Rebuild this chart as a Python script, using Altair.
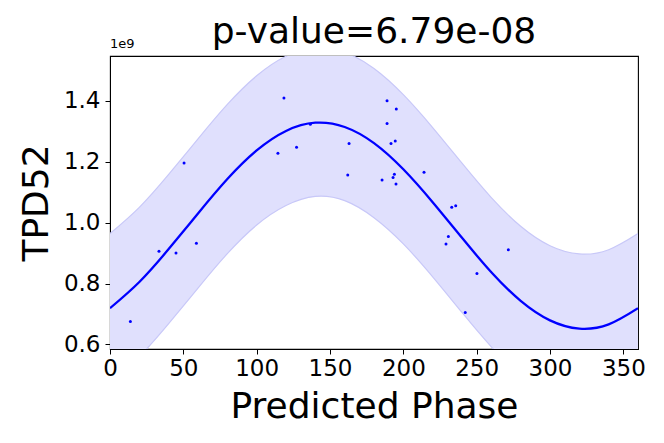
import altair as alt
import pandas as pd

# Observed samples (phase in degrees, TPD52 expression)
phase = [13.9, 33.4, 45.0, 50.5, 58.9, 114.5, 118.6, 127.2, 136.6, 163.0, 162.1,
         188.9, 195.2, 188.9, 191.6, 194.5, 185.5, 193.0, 193.9, 195.0, 214.1,
         233.0, 235.7, 230.7, 229.1, 271.6, 250.2, 242.2]
tpd52 = [0.675e9, 0.906e9, 0.900e9, 1.196e9, 0.932e9, 1.228e9, 1.409e9, 1.247e9, 1.323e9,
         1.260e9, 1.156e9, 1.400e9, 1.373e9, 1.325e9, 1.260e9, 1.268e9, 1.140e9, 1.148e9,
         1.159e9, 1.127e9, 1.165e9, 1.050e9, 1.055e9, 0.954e9, 0.930e9, 0.911e9, 0.833e9,
         0.705e9]

# Fitted curve and its band, every 20 degrees
curve_x = [0, 20, 40, 60, 80, 100, 120, 140, 160, 180, 200, 220, 240, 260, 280, 300, 320, 340, 360]
curve_y = [0.719e9, 0.805e9, 0.913e9, 1.030e9, 1.143e9, 1.237e9, 1.301e9, 1.328e9, 1.314e9,
           1.261e9, 1.175e9, 1.067e9, 0.950e9, 0.837e9, 0.743e9, 0.679e9, 0.652e9, 0.666e9,
           0.719e9]
band_lo = [0.474e9, 0.560e9, 0.668e9, 0.785e9, 0.898e9, 0.992e9, 1.056e9, 1.086e9, 1.072e9,
           1.016e9, 0.930e9, 0.822e9, 0.705e9, 0.592e9, 0.498e9, 0.434e9, 0.407e9, 0.421e9,
           0.474e9]
band_hi = [0.964e9, 1.050e9, 1.158e9, 1.275e9, 1.388e9, 1.482e9, 1.546e9, 1.573e9, 1.559e9,
           1.506e9, 1.420e9, 1.312e9, 1.195e9, 1.082e9, 0.988e9, 0.924e9, 0.897e9, 0.911e9,
           0.964e9]

x_ticks = [0, 50, 100, 150, 200, 250, 300, 350]
y_ticks = [0.6e9, 0.8e9, 1.0e9, 1.2e9, 1.4e9]
title_text = "p-value=6.79e-08"
offset_text = "1e9"

pts = pd.DataFrame({"phase": phase, "val": tpd52})
fit = pd.DataFrame({"x": curve_x, "y": curve_y, "lo": band_lo, "hi": band_hi})

FONT = "DejaVu Sans"
xscale = alt.Scale(domain=[0, 360], nice=False, zero=False)
yscale = alt.Scale(domain=[0.585e9, 1.547e9], nice=False, zero=False)

xaxis = alt.Axis(values=x_ticks, title="Predicted Phase", titleFontSize=36, titleFont=FONT,
                 titleFontWeight="normal", titleColor="black", titleY=68,
                 titleBaseline="alphabetic", labelFontSize=23, labelFont=FONT,
                 labelColor="black", tickSize=5, tickColor="black", domainColor="black",
                 labelPadding=3, grid=False, labelFlush=False, labelOverlap=False)
yaxis = alt.Axis(values=y_ticks, title="TPD52", titleFontSize=36, titleFont=FONT,
                 titleFontWeight="normal", titleColor="black", titleX=-63,
                 titleBaseline="alphabetic", labelFontSize=23, labelFont=FONT,
                 labelColor="black", tickSize=5, tickColor="black", domainColor="black",
                 labelPadding=5, grid=False, labelExpr="format(datum.value / 1e9, '.1f')",
                 labelOverlap=False)

base = alt.Chart(fit)
area = base.mark_area(color="#e0e0fd", opacity=1, clip=True, interpolate="natural").encode(
    x=alt.X("x:Q", scale=xscale, axis=xaxis),
    y=alt.Y("lo:Q", scale=yscale, axis=yaxis),
    y2="hi:Q",
)
edge_lo = base.mark_line(color="#c8c8f8", strokeWidth=1.2, clip=True, interpolate="natural").encode(
    x=alt.X("x:Q", scale=xscale), y=alt.Y("lo:Q", scale=yscale))
edge_hi = base.mark_line(color="#c8c8f8", strokeWidth=1.2, clip=True, interpolate="natural").encode(
    x=alt.X("x:Q", scale=xscale), y=alt.Y("hi:Q", scale=yscale))
line = base.mark_line(color="#0000ff", strokeWidth=2.3, clip=True, interpolate="natural").encode(
    x=alt.X("x:Q", scale=xscale), y=alt.Y("y:Q", scale=yscale))
dots = alt.Chart(pts).mark_circle(color="#0000ff", opacity=1, size=9).encode(
    x=alt.X("phase:Q", scale=xscale), y=alt.Y("val:Q", scale=yscale))
offset_txt = alt.Chart(pd.DataFrame({"t": [offset_text]})).mark_text(
    font=FONT, fontSize=13, align="left", baseline="alphabetic", color="black"
).encode(x=alt.value(0), y=alt.value(-8), text="t:N")
title_txt = alt.Chart(pd.DataFrame({"t": [title_text]})).mark_text(
    font=FONT, fontSize=36, align="center", baseline="alphabetic", color="black"
).encode(x=alt.value(264), y=alt.value(-13), text="t:N")

chart = alt.layer(area, edge_lo, edge_hi, line, dots, offset_txt, title_txt).properties(
    width=528, height=293,
    autosize=alt.AutoSizeParams(type="none"),
    padding={"left": 102, "top": 48, "right": 18, "bottom": 86},
).configure_view(stroke="black", strokeWidth=1.1)

chart.save("out.html", embed_options={"renderer": "svg", "actions": False})
